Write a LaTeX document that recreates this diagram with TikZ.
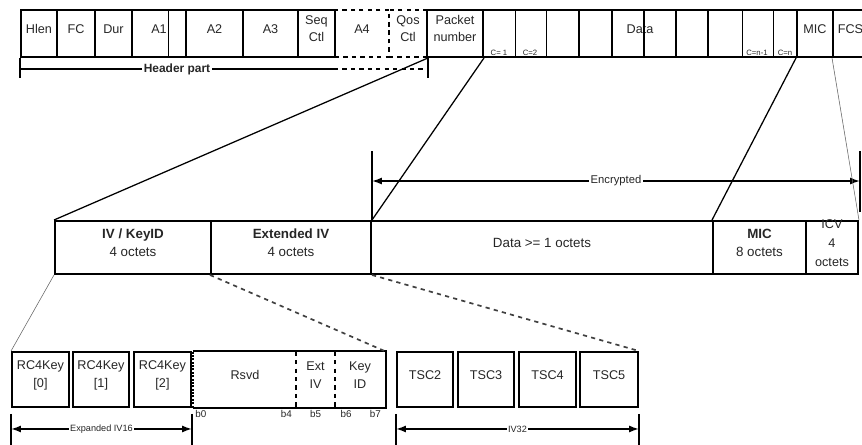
\documentclass[tikz,border=0pt]{standalone}
\usepackage{fontspec}
\setmainfont{Liberation Sans}
\usetikzlibrary{positioning, arrows.meta, fit, calc}

\begin{document}
\begin{tikzpicture}[
    x=0.025cm, y=-0.025cm,
    cell/.style={rectangle, draw, line width=1.4pt, inner sep=0pt,
                 align=center, text=black!85,
                 font=\fontsize{9}{12}\selectfont},
    dcell/.style={cell, dashed},
    blank/.style={rectangle, inner sep=0pt, align=center, text=black!85,
                  font=\fontsize{9}{12.8}\selectfont},
    mid/.style={cell, font=\fontsize{9.5}{12.8}\selectfont},
    tinylbl/.style={inner sep=1pt, text=black!85, font=\fontsize{5.5}{6}\selectfont},
    bitlbl/.style={inner sep=1pt, text=black!85, font=\fontsize{7}{8}\selectfont},
    dimlbl/.style={fill=white, inner sep=1pt, text=black!85,
                   font=\fontsize{6.5}{7}\selectfont},
    div/.style={line width=1.4pt},
    divthin/.style={line width=0.5pt},
    link/.style={line width=0.9pt},
    linkthin/.style={line width=0.4pt, black!60},
    linkdash/.style={line width=1.2pt, dashed, black!75},
    dim/.style={{Latex[length=7pt,width=5pt]}-{Latex[length=7pt,width=5pt]},
                line width=1.2pt},
    bar/.style={line width=1.4pt},
]
\useasboundingbox (0,0) rectangle (862,445);

% --- MAC frame (top row) ---
\node[cell, fit={(21,10) (57,57)}] (hlen) {Hlen};
\node[cell, fit={(57,10) (95,57)}] (fc) {FC};
\node[cell, fit={(95,10) (132,57)}] (dur) {Dur};
\node[cell, fit={(132,10) (186,57)}] (aone) {A1};
\node[cell, fit={(186,10) (243,57)}] (atwo) {A2};
\node[cell, fit={(243,10) (298,57)}] (athree) {A3};
\node[cell, fit={(298,10) (335,57)}] (seq) {Seq\\Ctl};
\node[dcell, fit={(335,10) (389,57)}] (afour) {A4};
\node[dcell, fit={(389,10) (427,57)}] (qos) {Qos\\Ctl};
\node[cell, fit={(427,10) (483,57)}] (pn) {Packet\\number};
\node[cell, fit={(483,10) (797,57)}] (datafield) {Data};
\node[cell, fit={(797,10) (833,57)}] (mic) {MIC};
\node[cell, fit={(833,10) (868,57)}] (fcs) {FCS};

\draw[divthin] (168,10) -- (168,57);
\foreach \x in {579,612,644,676,708}
    \draw[div] (\x,10) -- (\x,57);
\foreach \x in {515,546,742,773}
    \draw[divthin] (\x,10) -- (\x,57);

\node[tinylbl, anchor=south] (cone) at (499,57) {C= 1};
\node[tinylbl, anchor=south] (ctwo) at (530,57) {C=2};
\node[tinylbl, anchor=south] (cnm) at (757,57) {C=n-1};
\node[tinylbl, anchor=south] (cn) at (785,57) {C=n};

% --- header part span ---
\draw[bar] (hlen.south west) -- ++(0,20);
\draw[bar] (qos.south east) -- ++(0,20);
\draw[bar] ($(hlen.south west)+(0,11)$) -- ($(afour.south west)+(0,11)$)
    node[midway, fill=white, inner sep=1pt, text=black!85,
         font=\bfseries\fontsize{8.5}{10}\selectfont] (hdr) {Header part};
\draw[bar, dashed] ($(afour.south west)+(0,11)$) -- ($(qos.south east)+(0,11)$);

% --- TKIP MPDU (middle row) ---
\node[mid, fit={(55,221) (211,274)}] (ivkey) {\textbf{IV / KeyID}\\4 octets};
\node[mid, fit={(211,221) (371,274)}] (extiv) {\textbf{Extended IV}\\4 octets};
\node[mid, fit={(371,221) (713,274)}] (payload) {Data >= 1 octets};
\node[mid, fit={(713,221) (806,274)}] (micf) {\textbf{MIC}\\8 octets};
\node[mid, fit={(806,221) (858,274)}, font=\fontsize{9}{13.5}\selectfont]
    (icv) {ICV\\4\\octets};

% --- encrypted span ---
\draw[bar] (extiv.north east) -- ++(0,-69);
\draw[bar] ($(icv.north east)+(1,-8)$) -- ++(0,-61);
\draw[dim] ($(extiv.north east)+(0,-39)$) -- ($(icv.north east)+(1,-39)$)
    node[pos=0.5, dimlbl, font=\fontsize{8}{9}\selectfont] (enc) {Encrypted};

% --- top to middle ---
\draw[link] (qos.south east) -- (ivkey.north west);
\draw[link] (pn.south east) -- (extiv.north east);
\draw[link] (mic.south west) -- (micf.north west);
\draw[linkthin] (fcs.south west) -- (icv.north east);

% --- IV detail (bottom row) ---
\node[cell, fit={(12,352) (69,407)}, font=\fontsize{9}{12.8}\selectfont] (rczero) {RC4Key\\{[0]}};
\node[cell, fit={(73,352) (129,407)}, font=\fontsize{9}{12.8}\selectfont] (rcone) {RC4Key\\{[1]}};
\node[cell, fit={(134,352) (191,407)}, font=\fontsize{9}{12.8}\selectfont] (rctwo) {RC4Key\\{[2]}};

\node[blank, fit={(194,352) (296,407)}] (rsvd) {Rsvd};
\node[blank, fit={(296,352) (335,407)}] (extbit) {Ext\\IV};
\node[blank, fit={(335,352) (385,407)}] (keyid) {Key\\ID};
\node[inner sep=0pt, fit=(rsvd) (keyid)] (keyoct) {};
\draw[div] (keyoct.north west) -| (keyoct.south east) -- (keyoct.south west);
\draw[div, densely dotted] (keyoct.south west) -- (keyoct.north west);
\draw[div, dashed] (rsvd.north east) -- (rsvd.south east);
\draw[div, dashed] (extbit.north east) -- (extbit.south east);

\node[bitlbl, below right=1pt and 0pt of rsvd.south west] (bzero) {b0};
\node[bitlbl, below left=1pt and 2pt of rsvd.south east] (bfour) {b4};
\node[bitlbl, below=1pt of extbit.south] (bfive) {b5};
\node[bitlbl, below right=1pt and 3pt of keyid.south west] (bsix) {b6};
\node[bitlbl, below left=1pt and 2pt of keyid.south east] (bseven) {b7};

\node[cell, fit={(397,352) (453,407)}] (tsctwo) {TSC2};
\node[cell, fit={(458,352) (514,407)}] (tscthree) {TSC3};
\node[cell, fit={(519,352) (576,407)}] (tscfour) {TSC4};
\node[cell, fit={(580,352) (638,407)}] (tscfive) {TSC5};

% --- bottom spans ---
\draw[bar] ($(rczero.south west)+(0,6)$) -- ++(0,32);
\draw[bar] ($(rctwo.south east)+(0,6)$) -- ++(0,32);
\draw[dim] ($(rczero.south west)+(0,21)$) -- ($(rctwo.south east)+(0,21)$)
    node[midway, dimlbl] (ivsixteen) {Expanded IV16};
\draw[bar] ($(tsctwo.south west)+(0,6)$) -- ++(0,32);
\draw[bar] ($(tscfive.south east)+(0,6)$) -- ++(0,32);
\draw[dim] ($(tsctwo.south west)+(0,21)$) -- ($(tscfive.south east)+(0,21)$)
    node[midway, dimlbl] (ivthirtytwo) {IV32};

% --- middle to bottom ---
\draw[linkthin] (ivkey.south west) -- (rczero.north west);
\draw[linkdash] (extiv.south west) -- (keyoct.north east);
\draw[linkdash] (extiv.south east) -- (tscfive.north east);

\end{tikzpicture}
\end{document}
